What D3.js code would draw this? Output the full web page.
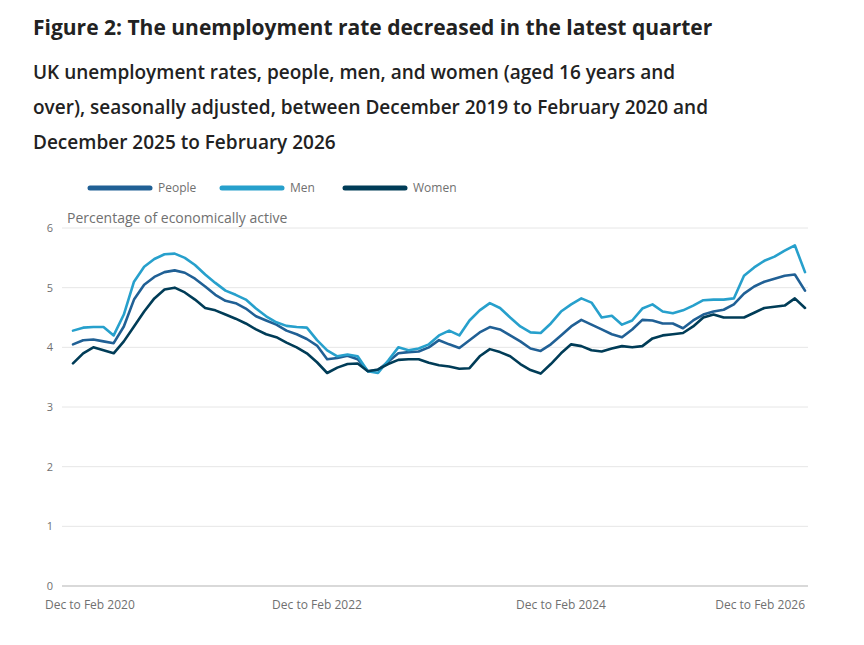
<!DOCTYPE html>
<html>
<head>
    <meta charset="utf-8">
    <title>Unemployment rate</title>
    <script src="https://cdn.jsdelivr.net/npm/d3@7"></script>
    <style>
        body { margin: 0; background: #fff; font-family: "Open Sans", sans-serif; }
        #chart text { font-family: "Open Sans", sans-serif; }
    </style>
</head>
<body>
    <svg id="chart" width="864" height="645"></svg>
    <script>
        // chart data
        var titleText = "Figure 2: The unemployment rate decreased in the latest quarter";
        var subtitleLines = [
            "UK unemployment rates, people, men, and women (aged 16 years and",
            "over), seasonally adjusted, between December 2019 to February 2020 and",
            "December 2025 to February 2026"
        ];
        var seriesNames = ["People", "Men", "Women"];
        var yTicks = [0, 1, 2, 3, 4, 5, 6];
        var xTickIndex = [0, 24, 48, 72];
        var xTickLabels = ["Dec to Feb 2020", "Dec to Feb 2022", "Dec to Feb 2024", "Dec to Feb 2026"];

        var people = [4.05, 4.12, 4.13, 4.1, 4.07, 4.35, 4.8, 5.05, 5.18, 5.26, 5.29, 5.25,
            5.15, 5.02, 4.88, 4.78, 4.74, 4.65, 4.52, 4.45, 4.38, 4.28, 4.22, 4.14,
            4.03, 3.8, 3.82, 3.86, 3.8, 3.6, 3.62, 3.76, 3.9, 3.92, 3.93, 4.0,
            4.12, 4.05, 3.99, 4.12, 4.25, 4.34, 4.3, 4.2, 4.1, 3.98, 3.94, 4.05,
            4.2, 4.35, 4.46, 4.38, 4.3, 4.22, 4.17, 4.3, 4.46, 4.45, 4.4, 4.4,
            4.32, 4.45, 4.55, 4.6, 4.63, 4.72, 4.9, 5.02, 5.1, 5.15, 5.2, 5.22, 4.95];
        var men = [4.28, 4.33, 4.34, 4.34, 4.2, 4.55, 5.1, 5.35, 5.48, 5.56, 5.57, 5.5,
            5.38, 5.22, 5.08, 4.95, 4.88, 4.8, 4.65, 4.52, 4.42, 4.36, 4.34, 4.33,
            4.12, 3.95, 3.85, 3.88, 3.85, 3.6, 3.57, 3.78, 4.0, 3.95, 3.98, 4.05,
            4.2, 4.28, 4.2, 4.45, 4.62, 4.74, 4.66, 4.5, 4.35, 4.25, 4.24, 4.4,
            4.6, 4.72, 4.82, 4.75, 4.5, 4.53, 4.38, 4.45, 4.65, 4.72, 4.6, 4.57,
            4.62, 4.7, 4.79, 4.8, 4.8, 4.82, 5.2, 5.34, 5.45, 5.52, 5.62, 5.71, 5.26];
        var women = [3.73, 3.9, 4.0, 3.95, 3.9, 4.1, 4.35, 4.6, 4.82, 4.97, 5.0, 4.92,
            4.8, 4.66, 4.62, 4.55, 4.48, 4.4, 4.3, 4.22, 4.17, 4.08, 4.0, 3.9,
            3.75, 3.57, 3.66, 3.72, 3.73, 3.6, 3.63, 3.72, 3.79, 3.8, 3.8, 3.74,
            3.7, 3.68, 3.64, 3.65, 3.85, 3.97, 3.92, 3.85, 3.72, 3.62, 3.56, 3.72,
            3.9, 4.05, 4.02, 3.95, 3.93, 3.98, 4.02, 4.0, 4.02, 4.15, 4.2, 4.22,
            4.24, 4.35, 4.5, 4.55, 4.5, 4.5, 4.5, 4.58, 4.66, 4.68, 4.7, 4.82, 4.66];

        var colors = ["#206095", "#27a0cc", "#003c57"];

        var svg = d3.select("#chart");

        // title and subtitle
        svg.append("text")
            .attr("x", 33).attr("y", 35)
            .attr("font-size", 21).attr("font-weight", 700)
            .attr("fill", "#222")
            .text(titleText);

        svg.selectAll("text.sub")
            .data(subtitleLines)
            .enter()
            .append("text")
            .attr("class", "sub")
            .attr("x", 33)
            .attr("y", (d, i) => 79 + i * 35)
            .attr("font-size", 19).attr("font-weight", 600)
            .attr("fill", "#222")
            .text(d => d);

        //scales
        var x = d3.scaleLinear().domain([0, people.length - 1]).range([73, 805]);
        var y = d3.scaleLinear().domain([0, 6]).range([586, 228]);

        //gridlines
        svg.append("g")
            .selectAll("line")
            .data(yTicks.filter(d => d > 0))
            .enter()
            .append("line")
            .attr("x1", 62).attr("x2", 808)
            .attr("y1", d => y(d)).attr("y2", d => y(d))
            .attr("stroke", "#e6e6e6").attr("stroke-width", 1);

        svg.append("line")
            .attr("x1", 62).attr("x2", 808)
            .attr("y1", y(0)).attr("y2", y(0))
            .attr("stroke", "#b3b3b3").attr("stroke-width", 1);

        //y labels
        svg.append("g")
            .selectAll("text")
            .data(yTicks)
            .enter()
            .append("text")
            .attr("x", 53)
            .attr("y", d => y(d) + 4)
            .attr("text-anchor", "end")
            .attr("font-size", 11)
            .attr("fill", "#707070")
            .text(d => d);

        svg.append("text")
            .attr("x", 67).attr("y", 223)
            .attr("font-size", 14)
            .attr("fill", "#707070")
            .text("Percentage of economically active");

        //x labels
        svg.append("g")
            .selectAll("text")
            .data(xTickIndex)
            .enter()
            .append("text")
            .attr("x", (d, i) => i == 0 ? 45 : x(d))
            .attr("y", 609)
            .attr("text-anchor", (d, i) => i == 0 ? "start" : (i == xTickIndex.length - 1 ? "end" : "middle"))
            .attr("font-size", 12)
            .attr("fill", "#707070")
            .text((d, i) => xTickLabels[i]);

        //lines
        var line = d3.line()
            .x((d, i) => x(i))
            .y(d => y(d));

        var allSeries = [people, men, women];
        svg.append("g")
            .selectAll("path")
            .data(allSeries)
            .enter()
            .append("path")
            .attr("d", line)
            .attr("fill", "none")
            .attr("stroke", (d, i) => colors[i])
            .attr("stroke-width", 2.6)
            .attr("stroke-linejoin", "round")
            .attr("stroke-linecap", "round");

        //legend
        var legendX = [90, 222, 345];
        var legend = svg.append("g")
            .selectAll("g")
            .data(seriesNames)
            .enter()
            .append("g")
            .attr("transform", (d, i) => "translate(" + legendX[i] + ",188)");

        legend.append("line")
            .attr("x1", 0).attr("x2", 60)
            .attr("stroke", (d, i) => colors[i])
            .attr("stroke-width", 5)
            .attr("stroke-linecap", "round");

        legend.append("text")
            .attr("x", 68).attr("y", 4)
            .attr("font-size", 12)
            .attr("fill", "#707070")
            .text(d => d);
    </script>
</body>
</html>
